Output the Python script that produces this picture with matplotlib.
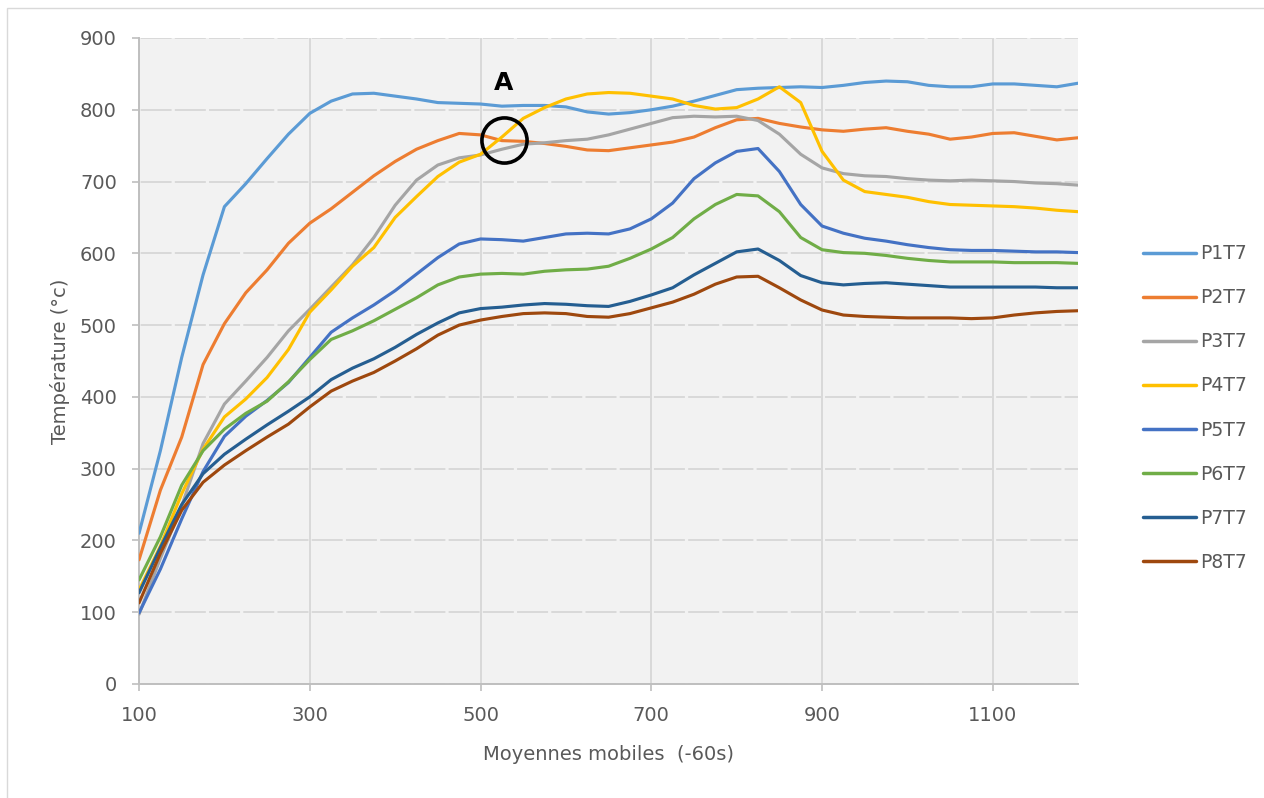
import matplotlib.pyplot as plt
from matplotlib.patches import Rectangle

# moving average index (x axis)
x = list(range(100, 1201, 25))

p1t7 = [210, 325, 455, 570, 665, 697, 732, 766, 795, 812, 822, 823, 819, 815, 810,
        809, 808, 805, 806, 806, 804, 797, 794, 796, 800, 805, 812, 820, 828, 830,
        831, 832, 831, 834, 838, 840, 839, 834, 832, 832, 836, 836, 834, 832, 837]
p2t7 = [173, 270, 344, 445, 502, 545, 577, 614, 642, 662, 685, 708, 728, 745, 757,
        767, 765, 757, 756, 753, 749, 744, 743, 747, 751, 755, 762, 775, 786, 788,
        781, 776, 772, 770, 773, 775, 770, 766, 759, 762, 767, 768, 763, 758, 761]
p3t7 = [97, 175, 248, 335, 390, 422, 455, 492, 522, 553, 584, 622, 667, 702, 723,
        733, 737, 745, 752, 754, 757, 759, 765, 773, 781, 789, 791, 790, 791, 785,
        766, 738, 719, 711, 708, 707, 704, 702, 701, 702, 701, 700, 698, 697, 695]
p4t7 = [131, 192, 265, 327, 372, 397, 427, 466, 518, 549, 582, 608, 650, 679, 707,
        727, 738, 762, 788, 803, 815, 822, 824, 823, 819, 815, 806, 801, 803, 815,
        832, 810, 742, 702, 686, 682, 678, 672, 668, 667, 666, 665, 663, 660, 658]
p5t7 = [99, 160, 230, 296, 345, 373, 395, 420, 455, 490, 510, 528, 548, 571, 594,
        613, 620, 619, 617, 622, 627, 628, 627, 634, 648, 670, 704, 726, 742, 746,
        714, 668, 638, 628, 621, 617, 612, 608, 605, 604, 604, 603, 602, 602, 601]
p6t7 = [145, 205, 277, 325, 355, 377, 394, 421, 452, 480, 492, 506, 522, 538, 556,
        567, 571, 572, 571, 575, 577, 578, 582, 593, 606, 622, 648, 668, 682, 680,
        658, 622, 605, 601, 600, 597, 593, 590, 588, 588, 588, 587, 587, 587, 586]
p7t7 = [127, 190, 250, 293, 320, 341, 361, 380, 400, 424, 440, 453, 469, 487, 503,
        517, 523, 525, 528, 530, 529, 527, 526, 533, 542, 552, 570, 586, 602, 606,
        590, 569, 559, 556, 558, 559, 557, 555, 553, 553, 553, 553, 553, 552, 552]
p8t7 = [113, 182, 242, 281, 305, 325, 344, 362, 386, 408, 422, 434, 450, 467, 486,
        500, 507, 512, 516, 517, 516, 512, 511, 516, 524, 532, 543, 557, 567, 568,
        552, 535, 521, 514, 512, 511, 510, 510, 510, 509, 510, 514, 517, 519, 520]

series = [p1t7, p2t7, p3t7, p4t7, p5t7, p6t7, p7t7, p8t7]
labels = ['P1T7', 'P2T7', 'P3T7', 'P4T7', 'P5T7', 'P6T7', 'P7T7', 'P8T7']
colors = ['#5B9BD5', '#ED7D31', '#A5A5A5', '#FFC000',
          '#4472C4', '#70AD47', '#255E91', '#9E480E']

fig = plt.figure(figsize=(12.64, 7.98), dpi=100)
ax = fig.add_axes([0.110, 0.1429, 0.743, 0.8095])
ax.set_facecolor('#f2f2f2')

for s, lab, c in zip(series, labels, colors):
    ax.plot(x, s, color=c, lw=2.25, label=lab, solid_capstyle='round', zorder=3)

# annotation "A" with circle
ax.text(527, 837, 'A', fontsize=18, fontweight='bold', ha='center', va='center', zorder=5)
ax.plot([528], [758], marker='o', ms=32.5, mfc='none', mec='black', mew=2.6, zorder=5)

ax.set_xlim(100, 1200)
ax.set_ylim(0, 900)
ax.set_xticks(range(100, 1101, 200))
ax.set_yticks(range(0, 901, 100))

ax.set_axisbelow(True)
ax.xaxis.grid(True, color='#d9d9d9', lw=1.4)
# horizontal gridlines have small breaks every 40 units, like the original
ax.yaxis.grid(True, color='#d9d9d9', lw=1.4, linestyle=(16.78, (15.95, 1.65)))

for sp in ['top', 'right']:
    ax.spines[sp].set_visible(False)
for sp in ['left', 'bottom']:
    ax.spines[sp].set_color('#bfbfbf')
    ax.spines[sp].set_linewidth(1.4)

ax.tick_params(length=5, width=1.2, color='#bfbfbf', labelsize=14, labelcolor='#595959')
ax.tick_params(axis='y', pad=11)
ax.tick_params(axis='x', pad=11)

ax.set_xlabel('Moyennes mobiles  (-60s)', fontsize=14, color='#595959', labelpad=14)
ax.set_ylabel('Température (°c)', fontsize=14, color='#595959', labelpad=7)

leg = fig.legend(loc='center left', bbox_to_anchor=(0.9043, 0.4887), frameon=False,
                 fontsize=13.5, labelcolor='#595959', handlelength=2.8,
                 handletextpad=0.25, labelspacing=1.34, borderpad=0, borderaxespad=0)
for h in leg.legend_handles:
    h.set_linewidth(2.5)

# outer chart border
fig.patches.append(Rectangle((6.5 / 1264, -0.5), 2, 0.5 + 1 - 8 / 798,
                             transform=fig.transFigure, fill=False,
                             edgecolor='#d9d9d9', lw=1))

fig.savefig('out.png', dpi=100)
